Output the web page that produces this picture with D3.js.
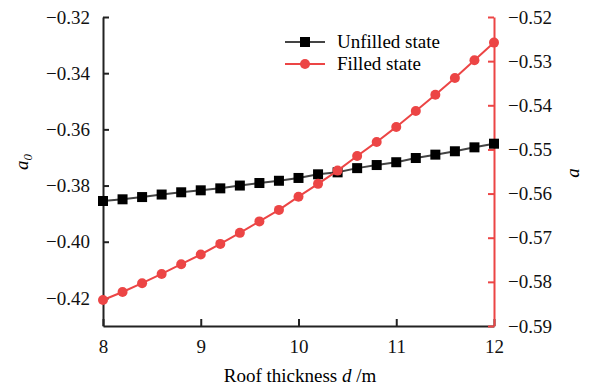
<!DOCTYPE html>
<html>
<head>
<meta charset="utf-8">
<script src="https://cdn.jsdelivr.net/npm/d3@7"></script>
<style>
  body { margin: 0; background: #fff; }
  svg text { font-family: "Liberation Serif", "Times New Roman", serif !important; }
</style>
</head>
<body>
<div class="chart"></div>
<script>
const thickness = [8, 8.2, 8.4, 8.6, 8.8, 9, 9.2, 9.4, 9.6, 9.8, 10, 10.2, 10.4, 10.6, 10.8, 11, 11.2, 11.4, 11.6, 11.8, 12];
const unfilled = [-0.3855, -0.3849, -0.3841, -0.3832, -0.3824, -0.3817, -0.381, -0.38, -0.3791, -0.3783, -0.3773,
  -0.376, -0.3753, -0.3738, -0.3727, -0.3717, -0.3702, -0.369, -0.3678, -0.3664, -0.3651];
const filled = [-0.5841, -0.5823, -0.5803, -0.5782, -0.576, -0.5738, -0.5714, -0.5689, -0.5663, -0.5637, -0.5607,
  -0.5578, -0.5548, -0.5515, -0.5483, -0.5449, -0.5413, -0.5376, -0.5338, -0.5298, -0.5258];
const xTicks = [8, 9, 10, 11, 12];
const leftTicks = [-0.32, -0.34, -0.36, -0.38, -0.40, -0.42];
const rightTicks = [-0.52, -0.53, -0.54, -0.55, -0.56, -0.57, -0.58, -0.59];
const seriesNames = ["Unfilled state", "Filled state"];

const width = 589;
const height = 387;
const margin = { top: 17, right: 95, bottom: 61, left: 103 };
const black = "#222";
const lineGray = "#444";
const red = "#ec4545";
const serif = '"Liberation Serif", "Times New Roman", serif';

const svg = d3
  .select(".chart")
  .append("svg")
  .attr("width", width)
  .attr("height", height)
  .attr("font-family", serif);

const x = d3.scaleLinear().domain([8, 12]).range([margin.left, width - margin.right]);
const yLeft = d3.scaleLinear().domain([-0.43, -0.32]).range([height - margin.bottom, margin.top]);
const yRight = d3.scaleLinear().domain([-0.59, -0.52]).range([height - margin.bottom, margin.top]);

const fmtMinus = f => d => d3.format(f)(d).replace("-", "\u2212");

// bottom axis
const xAxis = svg
  .append("g")
  .attr("transform", `translate(0, ${height - margin.bottom})`)
  .call(d3.axisBottom(x).tickValues(xTicks).tickSizeInner(-7).tickSizeOuter(0).tickPadding(14).tickFormat(d3.format("d")));

// left axis
const leftAxis = svg
  .append("g")
  .attr("transform", `translate(${margin.left}, 0)`)
  .call(d3.axisLeft(yLeft).tickValues(leftTicks).tickSizeInner(-6).tickSizeOuter(0).tickPadding(13).tickFormat(fmtMinus(".2f")));

// right axis
const rightAxis = svg
  .append("g")
  .attr("transform", `translate(${width - margin.right}, 0)`)
  .call(d3.axisRight(yRight).tickValues(rightTicks).tickSizeInner(-6).tickSizeOuter(0).tickPadding(14).tickFormat(fmtMinus(".2f")));

[xAxis, leftAxis, rightAxis].forEach(g => g.attr("font-family", serif).attr("font-size", 19));
[xAxis, leftAxis].forEach(g => {
  g.select(".domain").attr("stroke", black).attr("stroke-width", 2);
  g.selectAll(".tick line").attr("stroke", black).attr("stroke-width", 2);
});
rightAxis.select(".domain").attr("stroke", red).attr("stroke-width", 2);
rightAxis.selectAll(".tick line").attr("stroke", red).attr("stroke-width", 2);

svg.selectAll(".tick text").attr("fill", "#111");

// axis titles
svg
  .append("text")
  .attr("transform", `translate(28, 162) rotate(-90)`)
  .attr("text-anchor", "middle")
  .attr("font-size", 19)
  .attr("font-style", "italic")
  .html('a<tspan font-size="13" dy="4">0</tspan>');

svg
  .append("text")
  .attr("transform", `translate(579, 173) rotate(-90)`)
  .attr("text-anchor", "middle")
  .attr("font-size", 19)
  .attr("font-style", "italic")
  .text("a");

svg
  .append("text")
  .attr("x", 300)
  .attr("y", 382)
  .attr("text-anchor", "middle")
  .attr("font-size", 19)
  .html('Roof thickness <tspan font-style="italic">d</tspan> /m');

// unfilled series
const lineLeft = d3.line().x((d, i) => x(thickness[i])).y(d => yLeft(d));
svg
  .append("path")
  .datum(unfilled)
  .attr("d", lineLeft)
  .attr("fill", "none")
  .attr("stroke", lineGray)
  .attr("stroke-width", 2);

svg
  .selectAll(".sq")
  .data(unfilled)
  .enter()
  .append("rect")
  .attr("class", "sq")
  .attr("x", (d, i) => x(thickness[i]) - 5)
  .attr("y", d => yLeft(d) - 5)
  .attr("width", 10)
  .attr("height", 10)
  .attr("fill", "#000");

// filled series
const lineRight = d3.line().x((d, i) => x(thickness[i])).y(d => yRight(d));
svg
  .append("path")
  .datum(filled)
  .attr("d", lineRight)
  .attr("fill", "none")
  .attr("stroke", red)
  .attr("stroke-width", 2);

svg
  .selectAll(".dot")
  .data(filled)
  .enter()
  .append("circle")
  .attr("class", "dot")
  .attr("cx", (d, i) => x(thickness[i]))
  .attr("cy", d => yRight(d))
  .attr("r", 5)
  .attr("fill", red);

// legend
const legend = svg.append("g").attr("transform", "translate(285, 42)");
seriesNames.forEach((name, i) => {
  const row = legend.append("g").attr("transform", `translate(0, ${i * 22})`);
  row
    .append("line")
    .attr("x1", 0)
    .attr("x2", 40)
    .attr("stroke", i === 0 ? lineGray : red)
    .attr("stroke-width", 2);
  if (i === 0) {
    row.append("rect").attr("x", 15).attr("y", -5).attr("width", 10).attr("height", 10).attr("fill", "#000");
  } else {
    row.append("circle").attr("cx", 20).attr("r", 5).attr("fill", red);
  }
  row
    .append("text")
    .attr("x", 52)
    .attr("y", 6)
    .attr("font-size", 19)
    .text(name);
});
</script>
</body>
</html>
